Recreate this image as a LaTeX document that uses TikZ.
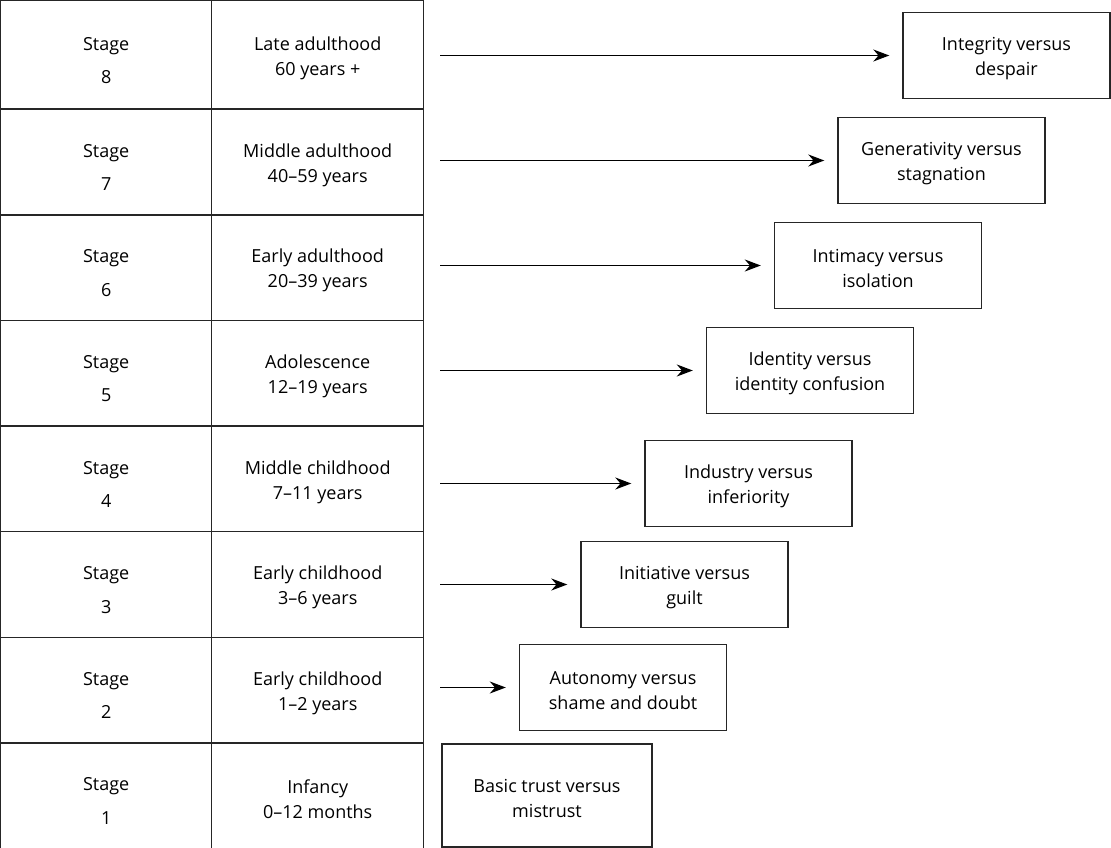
\documentclass[tikz,border=0pt]{standalone}
\usepackage{fontspec}
\setmainfont{Open Sans}
\usetikzlibrary{arrows.meta,positioning}

% strut that lowers the first line of a cell
\newcommand{\lift}[1]{\rule{0pt}{#1}}

\begin{document}
\begin{tikzpicture}[
    x=1pt, y=-1pt,
    font=\fontsize{18}{25}\selectfont,
    cell/.style={rectangle, draw=black!85, line width=1.4pt, outer sep=0pt, inner sep=0pt, minimum height=105.6pt, text centered, align=center},
    stagecell/.style={cell, minimum width=211pt},
    agecell/.style={cell, minimum width=212pt},
    crisisbox/.style={rectangle, draw=black!85, line width=1.4pt, minimum width=207pt, minimum height=86pt, align=center},
    arrow/.style={-{Stealth[length=16pt, width=12pt]}, line width=1.2pt, shorten >=13pt}
]
\useasboundingbox (0,0) rectangle (1111,848);

% stage column
\node[stagecell, minimum height=108.5pt] (st8) at (106.2,54.95) {\lift{24pt}Stage\\[8.5pt]8};
\node[stagecell, below=0pt of st8] (st7) {\lift{24pt}Stage\\[8.5pt]7};
\node[stagecell, below=0pt of st7] (st6) {\lift{24pt}Stage\\[8.5pt]6};
\node[stagecell, below=0pt of st6] (st5) {\lift{24pt}Stage\\[8.5pt]5};
\node[stagecell, below=0pt of st5] (st4) {\lift{24pt}Stage\\[8.5pt]4};
\node[stagecell, below=0pt of st4] (st3) {\lift{24pt}Stage\\[8.5pt]3};
\node[stagecell, below=0pt of st3] (st2) {\lift{24pt}Stage\\[8.5pt]2};
\node[stagecell, below=0pt of st2] (st1) {\lift{24pt}Stage\\[8.5pt]1};

% age column
\node[agecell, minimum height=108.5pt, right=0pt of st8] (ag8) {\lift{20pt}Late adulthood\\60 years +};
\node[agecell, right=0pt of st7] (ag7) {\lift{20pt}Middle adulthood\\40–59 years};
\node[agecell, right=0pt of st6] (ag6) {\lift{20pt}Early adulthood\\20–39 years};
\node[agecell, right=0pt of st5] (ag5) {\lift{20pt}Adolescence\\12–19 years};
\node[agecell, right=0pt of st4] (ag4) {\lift{20pt}Middle childhood\\7–11 years};
\node[agecell, right=0pt of st3] (ag3) {\lift{20pt}Early childhood\\3–6 years};
\node[agecell, right=0pt of st2] (ag2) {\lift{20pt}Early childhood\\1–2 years};
\node[agecell, right=0pt of st1] (ag1) {\lift{20pt}Infancy\\0–12 months};

% crisis boxes
\node[crisisbox] (cr8) at (1006.5,55.5) {\lift{20pt}Integrity versus\\despair};
\node[crisisbox] (cr7) at (941.5,160.5) {\lift{20pt}Generativity versus\\stagnation};
\node[crisisbox] (cr6) at (878,265.5) {\lift{20pt}Intimacy versus\\isolation};
\node[crisisbox] (cr5) at (810,370.5) {\lift{20pt}Identity versus\\identity confusion};
\node[crisisbox] (cr4) at (748.5,483.5) {\lift{20pt}Industry versus\\inferiority};
\node[crisisbox] (cr3) at (684.5,584.5) {\lift{20pt}Initiative versus\\guilt};
\node[crisisbox] (cr2) at (623,687.5) {\lift{20pt}Autonomy versus\\shame and doubt};
\node[crisisbox, minimum width=210pt, minimum height=103pt] (cr1) at (547,795.5) {\lift{20pt}Basic trust versus\\mistrust};

\coordinate (start) at (440,0);
\draw[arrow] (start |- cr8.west) -- (cr8.west);
\draw[arrow] (start |- cr7.west) -- (cr7.west);
\draw[arrow] (start |- cr6.west) -- (cr6.west);
\draw[arrow] (start |- cr5.west) -- (cr5.west);
\draw[arrow] (start |- cr4.west) -- (cr4.west);
\draw[arrow] (start |- cr3.west) -- (cr3.west);
\draw[arrow] (start |- cr2.west) -- (cr2.west);
\end{tikzpicture}
\end{document}
